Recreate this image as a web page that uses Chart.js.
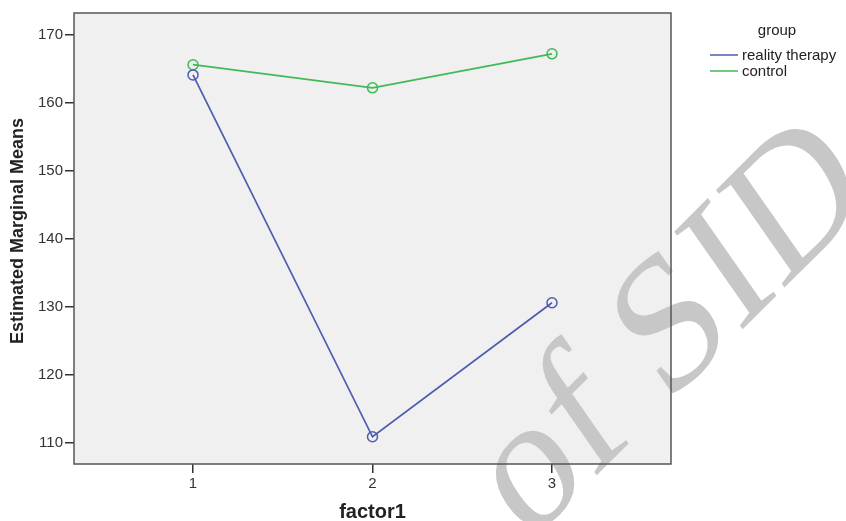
<!DOCTYPE html>
<html>
<head>
<meta charset="utf-8">
<script src="https://cdn.jsdelivr.net/npm/chart.js@4"></script>
<style>
html,body{margin:0;padding:0;background:#fff;}
#wrap{width:846px;height:521px;position:relative;}
</style>
</head>
<body>
<div id="wrap"><canvas id="c" width="846" height="521"></canvas></div>
<script>
// ---- data ----
const factorLevels = [1, 2, 3];
const realityTherapy = [164.1, 110.9, 130.6];
const control = [165.6, 162.2, 167.2];
const yTicks = [110, 120, 130, 140, 150, 160, 170];
const seriesNames = ['reality therapy', 'control'];
const legendTitle = 'group';
const xTitle = 'factor1';
const yTitle = 'Estimated Marginal Means';
const watermark = 'of SID';

const BLUE = '#4d5cb0';
const GREEN = '#3fbb55';

function pts(vals){ return factorLevels.map((x,i)=>({x:x, y:vals[i]})); }

const decor = {
  id: 'decor',
  beforeDraw(chart){
    const {ctx, chartArea:a} = chart;
    ctx.save();
    ctx.fillStyle = '#f0f0f0';
    ctx.fillRect(a.left, a.top, a.right-a.left, a.bottom-a.top);
    // watermark (rotated and slightly sheared, as in the source)
    ctx.translate(527, 545);
    ctx.transform(0.7071, -0.7071, 0.574, 0.819, 0, 0);
    ctx.fillStyle = '#c7c7c7';
    ctx.font = '182px "Liberation Serif", "DejaVu Serif", serif';
    ctx.textBaseline = 'alphabetic';
    ctx.fillText(watermark, 0, 0);
    ctx.restore();
  },
  afterDraw(chart){
    const {ctx, chartArea:a} = chart;
    ctx.save();
    // frame
    ctx.strokeStyle = '#555';
    ctx.lineWidth = 1.5;
    ctx.strokeRect(a.left, a.top, a.right-a.left, a.bottom-a.top);
    // axis titles
    ctx.fillStyle = '#222';
    ctx.font = 'bold 20px "Liberation Sans", Arial, sans-serif';
    ctx.textAlign = 'center';
    ctx.textBaseline = 'middle';
    ctx.fillText(xTitle, (a.left+a.right)/2, 512);
    ctx.save();
    ctx.translate(18, 231);
    ctx.rotate(-Math.PI/2);
    ctx.font = 'bold 18px "Liberation Sans", Arial, sans-serif';
    ctx.fillText(yTitle, 0, 0);
    ctx.restore();
    // legend
    ctx.font = '15px "Liberation Sans", Arial, sans-serif';
    ctx.fillStyle = '#222';
    ctx.textAlign = 'center';
    ctx.fillText(legendTitle, 777, 31);
    ctx.textAlign = 'left';
    const colors = [BLUE, GREEN];
    const ys = [55, 71];
    seriesNames.forEach((n,i)=>{
      ctx.strokeStyle = colors[i];
      ctx.lineWidth = 1.5;
      ctx.beginPath();
      ctx.moveTo(710, ys[i]); ctx.lineTo(738, ys[i]);
      ctx.stroke();
      ctx.fillStyle = '#222';
      ctx.fillText(n, 742, ys[i]+1);
    });
    ctx.restore();
  }
};

new Chart(document.getElementById('c'), {
  type: 'line',
  data: {
    datasets: [
      {label: seriesNames[0], data: pts(realityTherapy), borderColor: BLUE, borderWidth: 1.7,
       pointRadius: 5, pointHoverRadius: 5, pointBorderColor: BLUE, pointBackgroundColor: 'rgba(0,0,0,0)', pointBorderWidth: 1.5, tension: 0},
      {label: seriesNames[1], data: pts(control), borderColor: GREEN, borderWidth: 1.7,
       pointRadius: 5, pointHoverRadius: 5, pointBorderColor: GREEN, pointBackgroundColor: 'rgba(0,0,0,0)', pointBorderWidth: 1.5, tension: 0}
    ]
  },
  options: {
    responsive: false,
    animation: false,
    events: [],
    layout: {padding: {left: 0, top: 13, right: 175, bottom: 0}},
    plugins: {legend: {display: false}, tooltip: {enabled: false}, title: {display: false}},
    scales: {
      x: {
        type: 'linear', min: 0.337, max: 3.663,
        afterBuildTicks(s){ s.ticks = factorLevels.map(v=>({value:v})); },
        afterFit(s){ s.height = 57; },
        grid: {drawOnChartArea: false, drawTicks: true, tickLength: 9, color: '#333', lineWidth: 1.5},
        border: {display: false},
        ticks: {color: '#333', padding: 2, font: {size: 15, family: '"Liberation Sans", Arial, sans-serif'}, callback: v => String(v), maxRotation: 0}
      },
      y: {
        type: 'linear', min: 106.9, max: 173.2,
        afterBuildTicks(s){ s.ticks = yTicks.map(v=>({value:v})); },
        afterFit(s){ s.width = 74; },
        grid: {drawOnChartArea: false, drawTicks: true, tickLength: 9, color: '#333', lineWidth: 1.5},
        border: {display: false},
        ticks: {color: '#333', padding: 2, font: {size: 15, family: '"Liberation Sans", Arial, sans-serif'}, callback: v => String(v)}
      }
    }
  },
  plugins: [decor]
});
</script>
</body>
</html>
